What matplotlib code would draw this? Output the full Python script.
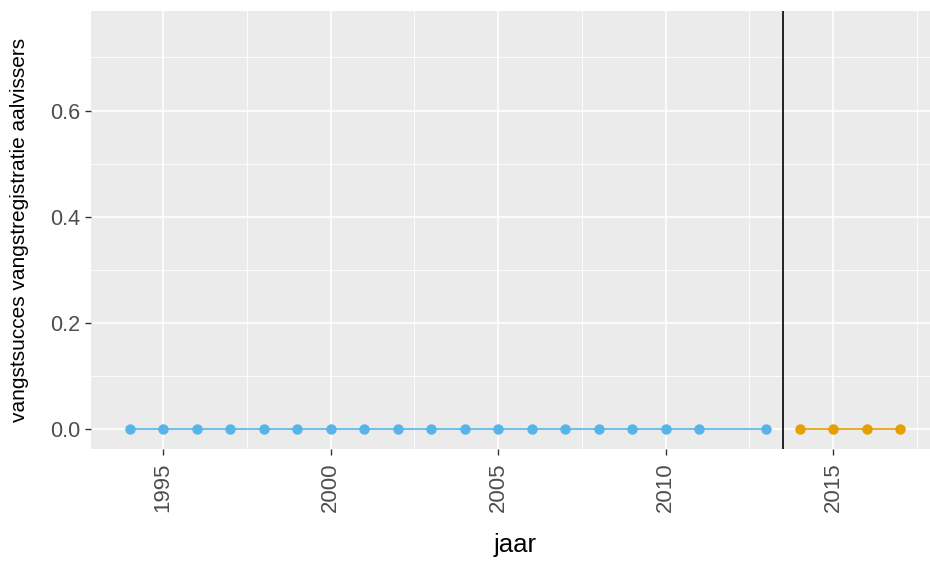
import matplotlib
matplotlib.use("Agg")
import matplotlib.pyplot as plt
from matplotlib.ticker import MultipleLocator

plt.rcParams["font.family"] = ["Liberation Sans", "DejaVu Sans"]

# data
years_old = [1994, 1995, 1996, 1997, 1998, 1999, 2000, 2001, 2002, 2003,
             2004, 2005, 2006, 2007, 2008, 2009, 2010, 2011, 2013]
values_old = [0.0] * len(years_old)
years_new = [2014, 2015, 2016, 2017]
values_new = [0.0, 0.0, 0.0, 0.0]
break_year = 2013.5

blue = "#56B4E9"
orange = "#E69F00"

fig = plt.figure(figsize=(9.3, 5.63), dpi=100)
ax = fig.add_axes([91 / 930, (563 - 449) / 563, 847.7 / 930, 438 / 563])
ax.set_facecolor("#EBEBEB")

ax.plot(years_old, values_old, color=blue, lw=1.2, marker="o", ms=6.5, zorder=3)
ax.plot(years_new, values_new, color=orange, lw=1.2, marker="o", ms=6.5, zorder=3)
ax.axvline(break_year, color="black", lw=1.2, zorder=4)

ax.set_xlim(1992.85, 2018.15)
ax.set_ylim(-0.0375, 0.7875)
ax.xaxis.set_major_locator(MultipleLocator(5))
ax.xaxis.set_minor_locator(MultipleLocator(2.5))
ax.yaxis.set_major_locator(MultipleLocator(0.2))
ax.yaxis.set_minor_locator(MultipleLocator(0.1))
ax.yaxis.set_major_formatter(plt.FuncFormatter(lambda v, p: f"{v:.1f}"))

ax.grid(which="major", color="white", lw=1.2)
ax.grid(which="minor", color="white", lw=0.6)
ax.set_axisbelow(True)
for s in ax.spines.values():
    s.set_visible(False)

ax.tick_params(which="major", length=4, width=1, color="#333333",
               labelcolor="#4D4D4D", labelsize=15.5, pad=4)
ax.tick_params(axis="x", pad=5.5, labelsize=16)
ax.tick_params(which="minor", length=0)
ax.tick_params(axis="x", labelrotation=90)

ax.set_xlabel("jaar", fontsize=18.5, color="black", labelpad=15)
ax.set_ylabel("vangstsucces vangstregistratie aalvissers", fontsize=15,
              color="black", labelpad=15)

fig.savefig("out.png", dpi=100)
